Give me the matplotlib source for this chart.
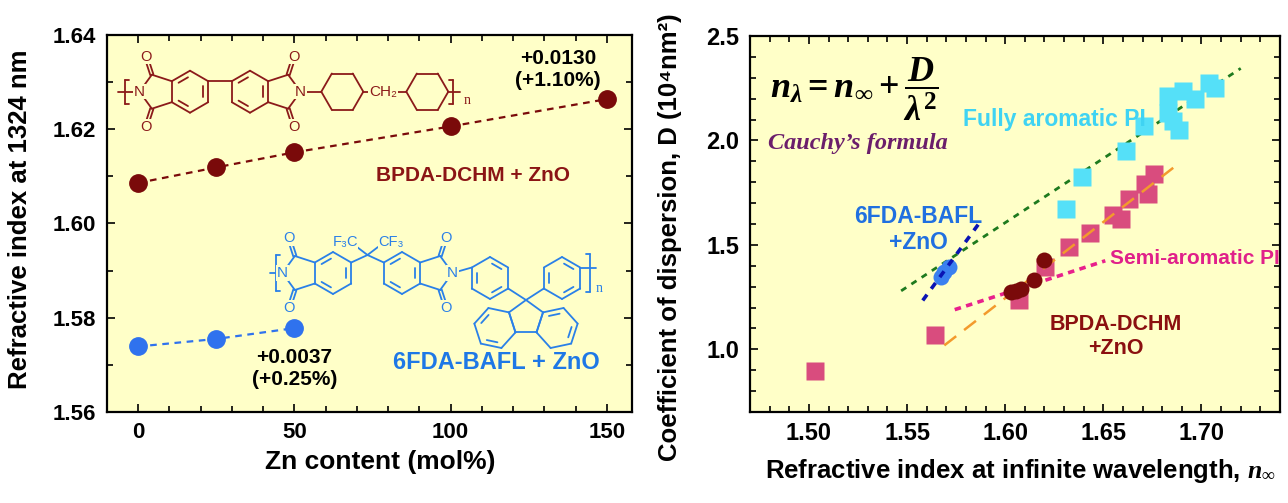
import numpy as np
import matplotlib
matplotlib.use('Agg')
import matplotlib.pyplot as plt
from matplotlib.lines import Line2D
from matplotlib.ticker import MultipleLocator, FormatStrFormatter

plt.rcParams['font.family'] = ['Liberation Sans', 'DejaVu Sans']
plt.rcParams['font.weight'] = 'bold'
plt.rcParams['axes.labelweight'] = 'bold'
plt.rcParams['mathtext.fontset'] = 'custom'
plt.rcParams['mathtext.rm'] = 'Liberation Serif:bold'
plt.rcParams['mathtext.it'] = 'Liberation Serif:italic:bold'
plt.rcParams['mathtext.bf'] = 'Liberation Serif:bold'

# ---- data: left panel (refractive index at 1324 nm vs Zn content)
zn_bpda = [0, 25, 50, 100, 150]
n_bpda = [1.6086, 1.6119, 1.6151, 1.6206, 1.6264]
zn_6fda = [0, 25, 50]
n_6fda = [1.5739, 1.5755, 1.5778]

# ---- data: right panel (dispersion coefficient vs n_inf)
full_n = [1.6312, 1.6393, 1.6614, 1.6709, 1.6830, 1.6830, 1.6856, 1.6887,
          1.6907, 1.6967, 1.7037, 1.7071]
full_d = [1.671, 1.825, 1.949, 2.068, 2.211, 2.131, 2.092, 2.052,
          2.235, 2.200, 2.274, 2.251]
semi_n = [1.503, 1.5643, 1.607, 1.6204, 1.6326, 1.6433, 1.6550, 1.6590,
          1.6630, 1.6726, 1.6710, 1.6760]
semi_d = [0.895, 1.067, 1.234, 1.396, 1.491, 1.555, 1.645, 1.625,
          1.719, 1.742, 1.790, 1.838]
bpda_n = [1.6028, 1.6055, 1.6080, 1.6145, 1.6200]
bpda_d = [1.273, 1.279, 1.288, 1.330, 1.428]
fda_n = [1.5674, 1.5690, 1.5715]
fda_d = [1.345, 1.372, 1.395]

fit_full_n = [1.547, 1.720]
fit_full_d = [1.280, 2.345]
fit_fda_n = [1.558, 1.587]
fit_fda_d = [1.234, 1.607]
fit_semi_n = [1.569, 1.6856]
fit_semi_d = [1.019, 1.869]
fit_bpda_n = [1.5743, 1.651]
fit_bpda_d = [1.190, 1.424]

BG = '#FFFFC8'
DRED = '#7A0A0A'
BLUE = '#2F72EE'
W, H = 1288, 503

fig = plt.figure(figsize=(W / 100, H / 100), dpi=100)
ax1 = fig.add_axes([106.7 / W, (H - 412) / H, (632 - 106.7) / W, (412 - 35) / H])
ax2 = fig.add_axes([750 / W, (H - 412) / H, (1280 - 750) / W, (412 - 36) / H])

for ax, ls in ((ax1, 16), (ax2, 17)):
    ax.set_facecolor(BG)
    for s in ax.spines.values():
        s.set_linewidth(1.6)
    ax.tick_params(which='both', direction='in', top=True, right=True,
                   width=1.2, labelsize=ls)
    ax.tick_params(which='major', length=6)
    ax.tick_params(which='minor', length=4)
    ax.tick_params(axis='y', pad=8)
    ax.tick_params(axis='x', pad=7)

# ---- left panel
ax1.plot(zn_bpda, n_bpda, color=DRED, lw=1.6, ls=(0, (3, 2.5)), marker='o',
         ms=12.5, mec=DRED, mfc=DRED)
ax1.plot(zn_6fda, n_6fda, color=BLUE, lw=1.6, ls=(0, (3, 2.5)), marker='o',
         ms=12.5, mec=BLUE, mfc=BLUE)
ax1.set_xlim(-10, 158)
ax1.set_ylim(1.56, 1.64)
ax1.xaxis.set_major_locator(MultipleLocator(50))
ax1.xaxis.set_minor_locator(MultipleLocator(10))
ax1.yaxis.set_major_locator(MultipleLocator(0.02))
ax1.yaxis.set_minor_locator(MultipleLocator(0.01))
ax1.yaxis.set_major_formatter(FormatStrFormatter('%.2f'))
ax1.set_xlabel('Zn content (mol%)', fontsize=19)
ax1.set_ylabel('Refractive index at 1324 nm', fontsize=18.5)
ax1.xaxis.set_label_coords(0.52, -0.10)
ax1.yaxis.set_label_coords(-0.142, 0.51)

ax1.text(134.4, 1.6326, '+0.0130\n(+1.10%)', ha='center', va='center',
         fontsize=15, linespacing=1.2)
ax1.text(50.1, 1.5693, '+0.0037\n(+0.25%)', ha='center', va='center',
         fontsize=15, linespacing=1.2)
ax1.text(107, 1.6102, 'BPDA-DCHM + ZnO', ha='center', va='center',
         fontsize=15, color='#8B1515')
ax1.text(114.5, 1.5705, '6FDA-BAFL + ZnO', ha='center', va='center',
         fontsize=17, color='#1E78E6')

# ---- right panel
ax2.plot(fit_full_n, fit_full_d, color='#1E7A1E', lw=2, ls=(0, (2.2, 2.2)))
ax2.plot(full_n, full_d, 's', ms=13, color='#55E0F8', mec='none')
ax2.plot(semi_n, semi_d, 's', ms=13, color='#D94C7E', mec='none')
ax2.plot(fit_semi_n, fit_semi_d, color='#F39A2C', lw=1.8, ls=(0, (6, 4)))
ax2.plot(fit_bpda_n, fit_bpda_d, color='#E8208C', lw=2.6, ls=(0, (1.8, 1.5)))
ax2.plot(bpda_n, bpda_d, 'o', ms=11.5, color=DRED, mec='none')
ax2.plot(fda_n, fda_d, 'o', ms=11.5, color='#3A80F0', mec='none')
ax2.plot(fit_fda_n, fit_fda_d, color='#0A14B4', lw=2.6, ls=(0, (2, 2)))
ax2.set_xlim(1.47, 1.74)
ax2.set_ylim(0.7, 2.5)
ax2.xaxis.set_major_locator(MultipleLocator(0.05))
ax2.xaxis.set_minor_locator(MultipleLocator(0.01))
ax2.yaxis.set_major_locator(MultipleLocator(0.5))
ax2.yaxis.set_minor_locator(MultipleLocator(0.1))
ax2.xaxis.set_major_formatter(FormatStrFormatter('%.2f'))
ax2.yaxis.set_major_formatter(FormatStrFormatter('%.1f'))
ax2.set_xlabel(r'Refractive index at infinite wavelength, $n_{\infty}$', fontsize=18.5)
ax2.set_ylabel('Coefficient of dispersion, D (10\u2074nm\u00b2)', fontsize=18.5)
ax2.xaxis.set_label_coords(0.51, -0.12)
ax2.yaxis.set_label_coords(-0.128, 0.465)

ax2.text(1.523, 2.244, r'$n_{\lambda} = n_{\infty} + \dfrac{D}{\lambda^{2}}$',
         ha='center', va='center', fontsize=26)
ax2.text(1.5248, 1.987, 'Cauchy\u2019s formula', ha='center', va='center',
         fontsize=17.5, family='Liberation Serif', style='italic', color='#6B1E6B')
ax2.text(1.625, 2.10, 'Fully aromatic PI', ha='center', va='center',
         fontsize=16.5, color='#3FD3F3')
ax2.text(1.5559, 1.5729, '6FDA-BAFL\n+ZnO', ha='center', va='center',
         fontsize=16.5, color='#2070E0', linespacing=1.15)
ax2.text(1.6966, 1.434, 'Semi-aromatic PI', ha='center', va='center',
         fontsize=15, color='#E0208A')
ax2.text(1.6562, 1.062, 'BPDA-DCHM\n+ZnO', ha='center', va='center',
         fontsize=15.5, color='#8B1010', linespacing=1.15)


# ---- chemical structure sketches (figure pixel coordinates, y down)
def to_fig(p):
    return p[0] / W, 1 - p[1] / H


def seg(p, q, c, lw=1.3):
    (x1, y1), (x2, y2) = to_fig(p), to_fig(q)
    fig.add_artist(Line2D([x1, x2], [y1, y2], transform=fig.transFigure,
                          color=c, lw=lw, solid_capstyle='round', zorder=3))


def label(p, s, c, size=10, **kw):
    x, y = to_fig(p)
    fig.text(x, y, s, color=c, fontsize=size, ha='center', va='center',
             fontweight='normal', zorder=4,
             bbox=dict(boxstyle='square,pad=0.05', fc=BG, ec='none'), **kw)


def ring(center, first, n, c, double=()):
    cx, cy = center
    a0 = np.arctan2(first[1] - cy, first[0] - cx)
    r = np.hypot(first[0] - cx, first[1] - cy)
    pts = [(cx + r * np.cos(a0 + 2 * np.pi * k / n),
            cy + r * np.sin(a0 + 2 * np.pi * k / n)) for k in range(n)]
    for k in range(n):
        seg(pts[k], pts[(k + 1) % n], c)
    for k in double:
        a = np.array(pts[k]); b = np.array(pts[(k + 1) % n])
        a2 = np.array(center) + 0.74 * (a - center)
        b2 = np.array(center) + 0.74 * (b - center)
        seg(a2 + 0.15 * (b2 - a2), b2 - 0.15 * (b2 - a2), c)
    return pts


def hexa(cx, cy, r, c, pointy=True, double=()):
    first = (cx, cy - r) if pointy else (cx + r, cy)
    return ring((cx, cy), first, 6, c, double)


def imide(A, B, c):
    A = np.array(A, float); B = np.array(B, float)
    L = np.hypot(*(B - A)); ang = np.arctan2(*(B - A)[::-1])
    pts = [A, B]
    for _ in range(3):
        ang -= 2 * np.pi / 5
        pts.append(pts[-1] + L * np.array([np.cos(ang), np.sin(ang)]))
    cen = np.mean(pts, axis=0)
    for k in range(5):
        if k != 0:
            seg(pts[k], pts[(k + 1) % 5], c)
    for C in (pts[2], pts[4]):
        d = (C - cen) / np.hypot(*(C - cen))
        nrm = np.array([-d[1], d[0]]) * 1.6
        seg(C + nrm, C + 13 * d + nrm, c)
        seg(C - nrm, C + 13 * d - nrm, c)
        label(C + 19 * d, 'O', c, 10.5)
    label(pts[3], 'N', c, 11)
    return pts[3]


def bracket(x, y, h, c, left=True):
    s = 4 if left else -4
    seg((x, y - h / 2), (x, y + h / 2), c)
    seg((x, y - h / 2), (x + s, y - h / 2), c)
    seg((x, y + h / 2), (x + s, y + h / 2), c)


# BPDA-DCHM repeat unit
C1 = '#8B1A1A'
ya = 91.7
ra = hexa(190, ya, 21, C1, double=(1, 3, 5))
rb = hexa(250, ya, 21, C1, double=(1, 3, 5))
seg(ra[1], rb[5], C1)
n1 = imide(ra[4], ra[5], C1)
n2 = imide(rb[1], rb[2], C1)
seg((118, ya), n1, C1)
bracket(125, ya, 24, C1)
cy1 = hexa(342.3, ya, 21, C1, pointy=False)
seg(n2, cy1[3], C1)
seg(cy1[0], (371, ya), C1)
label((383, ya), 'CH\u2082', C1, 11)
cy2 = hexa(427.3, ya, 21, C1, pointy=False)
seg((395, ya), cy2[3], C1)
seg(cy2[0], (460, ya), C1)
bracket(453.3, ya, 24, C1, left=False)
label((466.7, 101), 'n', C1, 10, family='Liberation Serif')

# 6FDA-BAFL repeat unit
C2 = '#2A80E8'
yb = 273
r1 = hexa(333, yb, 21, C2, double=(1, 3, 5))
r2 = hexa(402, yb, 21, C2, double=(1, 3, 5))
q = (367.5, 255)
seg(r1[1], q, C2)
seg(q, r2[5], C2)
seg(q, (357, 247), C2)
seg(q, (378, 247), C2)
label((345, 242), 'F\u2083C', C2, 10.5)
label((391, 242), 'CF\u2083', C2, 10.5)
n3 = imide(r1[4], r1[5], C2)
n4 = imide(r2[1], r2[2], C2)
seg((270, yb), n3, C2)
bracket(276, yb, 36, C2)
p1 = hexa(490, 278, 21, C2, double=(0, 2, 4))
p2 = hexa(562, 278, 21, C2, double=(0, 2, 4))
seg(n4, p1[5], C2)
spiro = np.array([526.0, 300.0])
seg(p1[2], spiro, C2)
seg(p2[4], spiro, C2)
seg(p2[1], (596, 267.5), C2)
bracket(590, yb, 38, C2, left=False)
label((599, 288), 'n', C2, 10, family='Liberation Serif')
pc = spiro + np.array([0, 17.9])
penta = ring(pc, spiro, 5, C2)
for a, b in ((penta[3], penta[4]), (penta[2], penta[1])):
    a = np.array(a); b = np.array(b)
    mid = (a + b) / 2
    out = (mid - pc) / np.hypot(*(mid - pc))
    ring(mid + 18.2 * out, a, 6, C2, double=(1, 3))

fig.savefig('out.png', dpi=100)
